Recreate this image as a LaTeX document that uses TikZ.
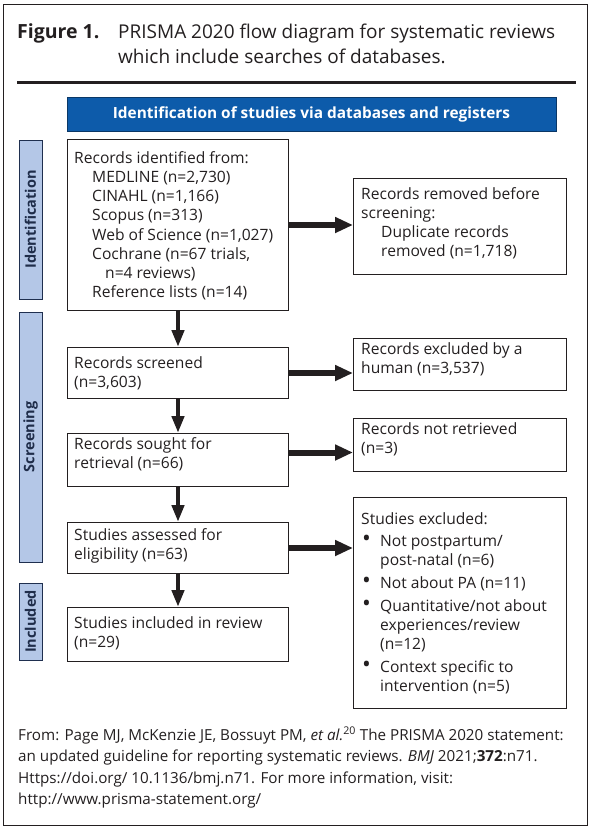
\documentclass[tikz,border=0pt]{standalone}
\usepackage{fontspec}
\setmainfont{Open Sans}
\usetikzlibrary{arrows.meta,calc}
\definecolor{hdrblue}{HTML}{0D5BAA}
\definecolor{hdrline}{HTML}{0A3766}
\definecolor{sidefill}{HTML}{B4C7E7}
\definecolor{sideline}{HTML}{1F2F4F}
\definecolor{sidetext}{HTML}{1F2D4A}
\definecolor{ink}{HTML}{231F20}
\newcommand{\bul}{\hspace*{1pt}\makebox[18pt][l]{\raisebox{-0.5pt}{\scalebox{1.5}{\textbullet}}}}
\begin{document}
\begin{tikzpicture}[x=1pt,y=-1pt,
  every node/.style={text=ink},
  bodyfont/.style={font=\fontsize{15.6}{19.2}\selectfont},
  box/.style={draw=ink, line width=1pt, inner sep=0pt, anchor=north west},
  btext/.style={bodyfont, anchor=north west, inner sep=0pt, align=left},
  side/.style={draw=sideline, fill=sidefill, line width=0.9pt, rotate=90, inner sep=0pt,
    minimum height=23pt, text=sidetext, font=\bfseries\fontsize{14.5}{16}\selectfont},
  varr/.style={draw=ink, line width=4.5pt, -{Triangle[length=17pt,width=12pt]}},
  harr/.style={draw=ink, line width=6pt, -{Triangle[length=18pt,width=15pt]}},
  foot/.style={anchor=base west, inner sep=0pt, font=\fontsize{15.2}{18}\selectfont}
]
\useasboundingbox (0,0) rectangle (592,830);
\draw[draw=ink, line width=1pt] (3,4) rectangle (587,825);

% title
\node[anchor=base west, inner sep=0pt, font=\bfseries\fontsize{19.5}{24}\selectfont] (fig) at (17,38) {Figure 1.};
\node[anchor=base west, inner sep=0pt, font=\fontsize{19}{24}\selectfont] (t1) at (118,38) {PRISMA 2020 flow diagram for systematic reviews};
\node[anchor=base west, inner sep=0pt, font=\fontsize{19}{24}\selectfont] (t2) at (118,63) {which include searches of databases.};
\draw[draw=ink, line width=3pt] (17,82) -- (576,82);

% header
\node[draw=hdrline, fill=hdrblue, line width=1pt, minimum width=489pt, minimum height=34pt, inner sep=0pt,
  text=white, font=\bfseries\fontsize{15.4}{17}\selectfont] (hdr) at (311.5,114) {Identification of studies via databases and registers};

% side labels
\node[side, minimum width=159pt] (lid) at (30.5,219.5) {Identification};
\node[side, minimum width=250pt] (lsc) at (30.5,437) {Screening};
\node[side, minimum width=77pt] (lin) at (30.5,621.5) {Included};

% left boxes
\node[box, minimum width=221pt, minimum height=171pt] (ident) at (67,139) {};
\node[box, minimum width=221pt, minimum height=51pt] (screened) at (67,347) {};
\node[box, minimum width=221pt, minimum height=53pt] (sought) at (67,433) {};
\node[box, minimum width=221pt, minimum height=51pt] (assessed) at (67,522) {};
\node[box, minimum width=221pt, minimum height=54pt] (incl) at (67,607) {};

% right boxes
\node[box, minimum width=213pt, minimum height=96pt] (removed) at (353,178) {};
\node[box, minimum width=213pt, minimum height=52pt] (excl) at (353,338) {};
\node[box, minimum width=213pt, minimum height=53pt] (notret) at (353,418) {};
\node[box, minimum width=213pt, minimum height=211pt] (studexcl) at (353,497) {};

% texts (baseline - 13.44)
\node[btext] (identtxt) at (74,149.6) {\strut Records identified from:\\
\hspace*{18pt}MEDLINE (n=2,730)\\
\hspace*{18pt}CINAHL (n=1,166)\\
\hspace*{18pt}Scopus (n=313)\\
\hspace*{18pt}Web of Science (n=1,027)\\
\hspace*{18pt}Cochrane (n=67 trials,\\
\hspace*{31pt}n=4 reviews)\\
\hspace*{18pt}Reference lists (n=14)};
\node[btext] (scrtxt) at (74,354.6) {\strut Records screened\\(n=3,603)};
\node[btext] (soutxt) at (74,435.6) {\strut Records sought for\\retrieval (n=66)};
\node[btext] (asstxt) at (74,526.6) {\strut Studies assessed for\\eligibility (n=63)};
\node[btext] (inctxt) at (74,614.6) {\strut Studies included in review\\(n=29)};

\node[btext] (remtxt) at (361,185.6) {\strut Records removed before\\screening:\\
\hspace*{20pt}Duplicate records\\
\hspace*{20pt}removed (n=1,718)};
\node[btext] (exctxt) at (361,340.6) {\strut Records excluded by a\\human (n=3,537)};
\node[btext] (nrtxt) at (361,420.6) {\strut Records not retrieved\\(n=3)};
\node[btext] (setxt) at (361,510.6) {\strut Studies excluded:\\[3pt]
\bul Not postpartum/\\
\hspace*{19pt}post-natal (n=6)\\[3.5pt]
\bul Not about PA (n=11)\\[3.5pt]
\bul Quantitative/not about\\
\hspace*{19pt}experiences/review\\
\hspace*{19pt}(n=12)\\[3.5pt]
\bul Context specific to\\
\hspace*{19pt}intervention (n=5)};

% arrows
\draw[varr] (ident.south) -- (screened.north);
\draw[varr] (screened.south) -- (sought.north);
\draw[varr] (sought.south) -- (assessed.north);
\draw[varr] (assessed.south) -- (incl.north);
\draw[harr] (ident.east) -- (ident.east -| removed.west);
\draw[harr] (screened.east) -- (screened.east -| excl.west);
\draw[harr] ([yshift=7.5pt]sought.east) -- ([yshift=7.5pt]sought.east -| notret.west);
\draw[harr] (assessed.east) -- (assessed.east -| studexcl.west);

% footer
\node[foot] (f1) at (18,740) {From: Page MJ, McKenzie JE, Bossuyt PM, \textit{et al.}\textsuperscript{20} The PRISMA 2020 statement:};
\node[foot] (f2) at (18,761.5) {an updated guideline for reporting systematic reviews. \textit{BMJ} 2021;\textbf{372}:n71.};
\node[foot] (f3) at (18,783) {Https://doi.org/ 10.1136/bmj.n71. For more information, visit:};
\node[foot] (f4) at (18,804.5) {http://www.prisma-statement.org/};
\end{tikzpicture}
\end{document}
